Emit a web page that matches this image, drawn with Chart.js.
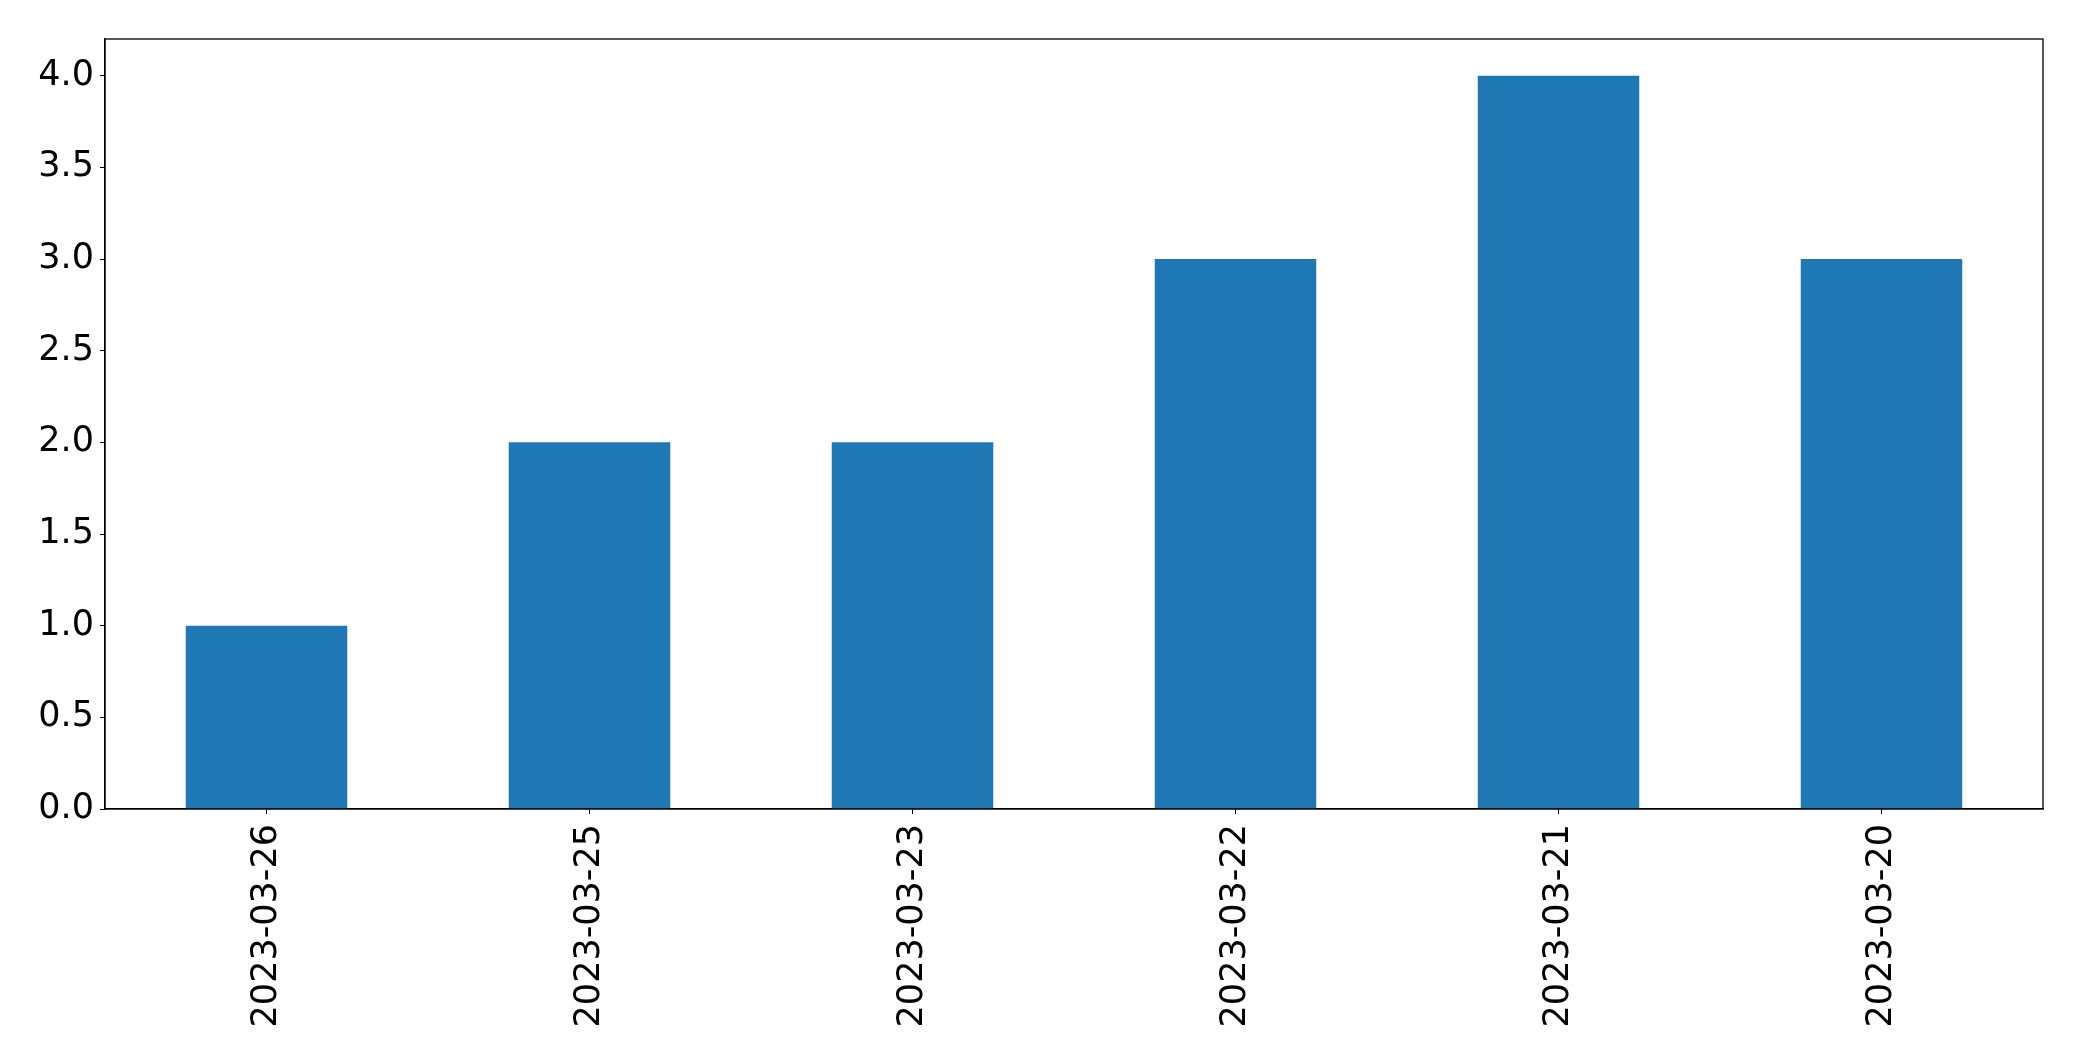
<!DOCTYPE html>
<html>
<head>
<meta charset="utf-8">
<script src="https://cdn.jsdelivr.net/npm/chart.js@4/dist/chart.umd.min.js"></script>
<style>
  html, body { margin: 0; padding: 0; background: #fff; }
  canvas { display: block; }
</style>
</head>
<body>
<canvas id="barChart" width="2082" height="1061"></canvas>
<script>
const dates = ['2023-03-26', '2023-03-25', '2023-03-23', '2023-03-22', '2023-03-21', '2023-03-20'];
const counts = [1, 2, 2, 3, 4, 3];
const yMax = 4.2;
const yStep = 0.5;

// matplotlib-style box around the plot area
const frame = {
  id: 'frame',
  afterDraw(chart) {
    const { ctx, chartArea: a } = chart;
    ctx.save();
    ctx.strokeStyle = '#000';
    ctx.lineWidth = 1.3;
    ctx.strokeRect(a.left, a.top, a.right - a.left, a.bottom - a.top);
    ctx.restore();
  }
};

const font = { family: 'DejaVu Sans', size: 35 };

new Chart(document.getElementById('barChart'), {
  type: 'bar',
  data: {
    labels: dates,
    datasets: [{ data: counts, backgroundColor: '#1f77b4', categoryPercentage: 1, barPercentage: 0.5 }]
  },
  options: {
    responsive: false,
    animation: false,
    layout: { padding: { top: 39, right: 39, left: 0, bottom: 0 } },
    plugins: { legend: { display: false }, tooltip: { enabled: false } },
    scales: {
      x: {
        grid: { display: true, offset: false, drawOnChartArea: false, drawTicks: true, tickLength: 5, tickColor: '#000' },
        border: { display: true, color: '#000', width: 1.3 },
        ticks: { color: '#000', font, minRotation: 90, maxRotation: 90, padding: 10, autoSkip: false },
        afterFit(s) { s.height = 252; }
      },
      y: {
        min: 0,
        max: yMax,
        grid: { display: true, drawOnChartArea: false, drawTicks: true, tickLength: 5, tickColor: '#000' },
        border: { display: true, color: '#000', width: 1.3 },
        ticks: { color: '#000', font, stepSize: yStep, includeBounds: false, padding: 6, callback: v => v.toFixed(1) },
        afterFit(s) { s.width = 105; }
      }
    }
  },
  plugins: [frame]
});
</script>
</body>
</html>
